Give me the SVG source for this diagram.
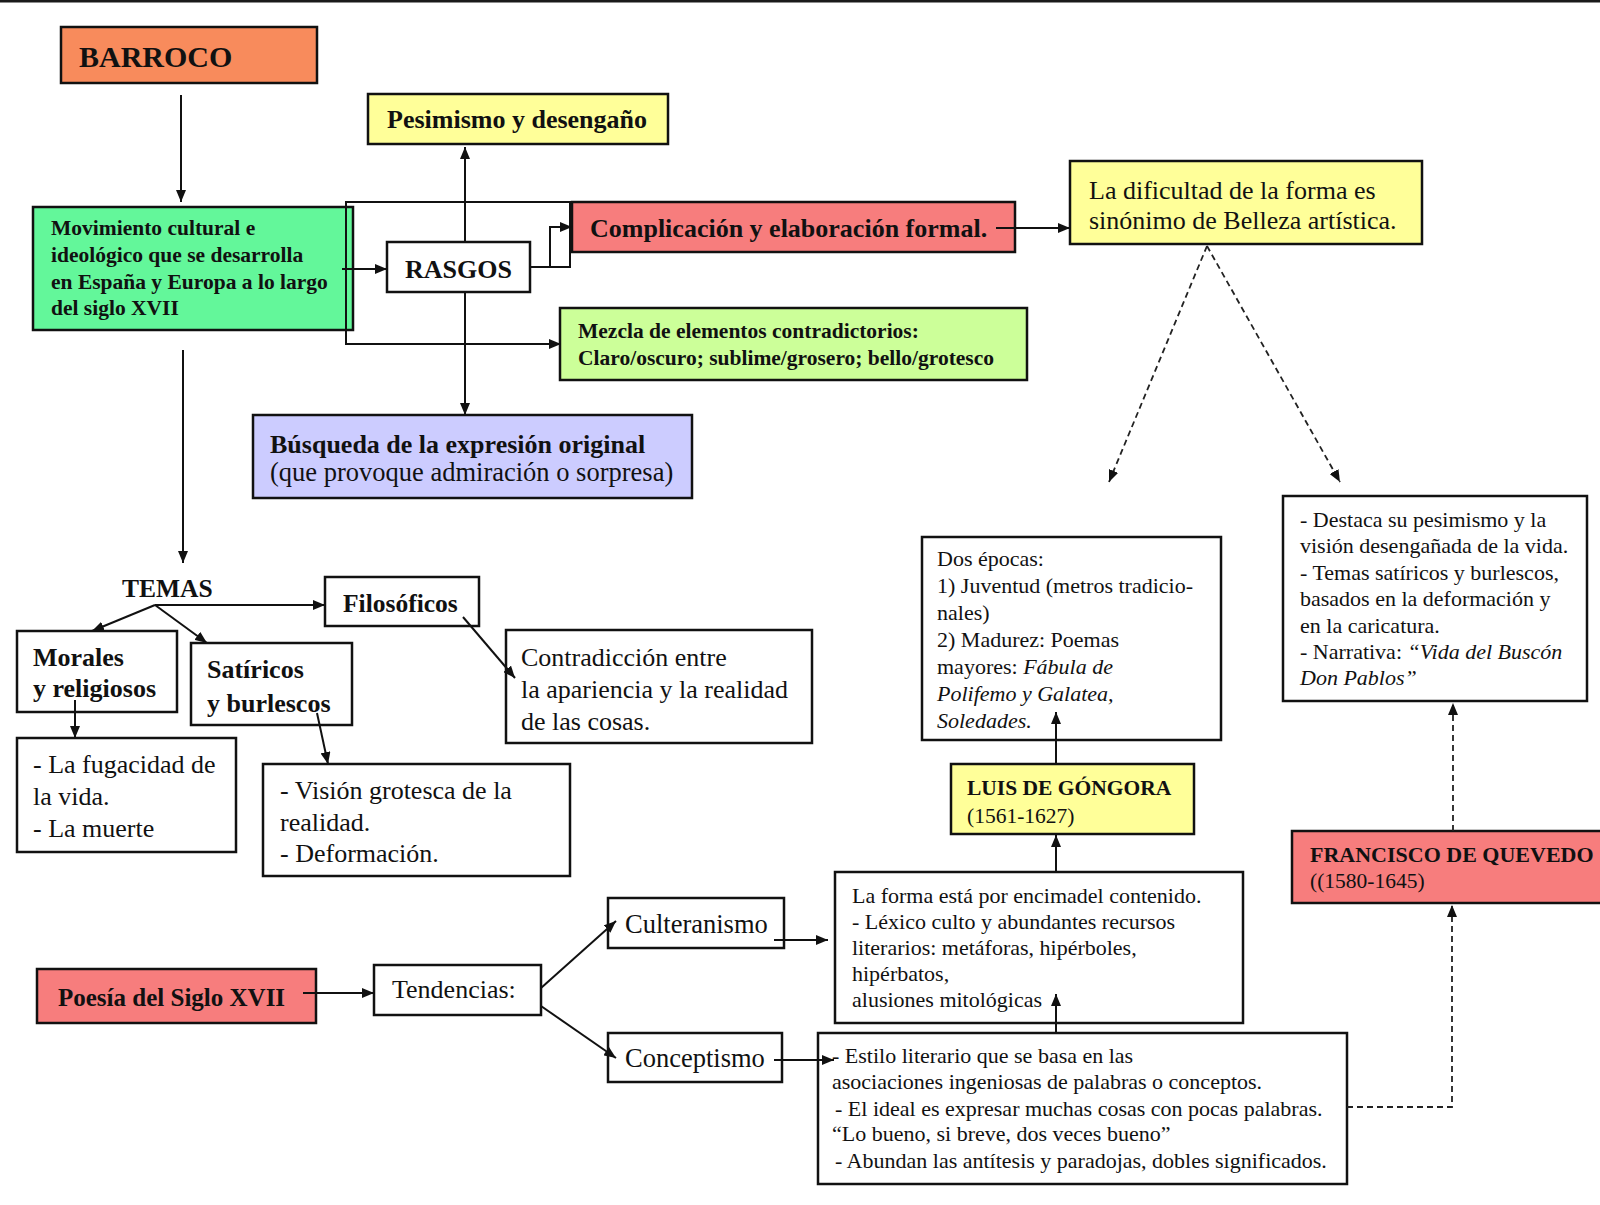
<svg xmlns="http://www.w3.org/2000/svg" width="1600" height="1205" viewBox="0 0 1600 1205">
<defs>
<style>
.bx{stroke:#111;stroke-width:2.5}
.t{font-family:"Liberation Serif","Times New Roman",serif;fill:#111}
.b{font-weight:bold}
.i{font-style:italic}
.c{fill:none;stroke:#111;stroke-width:2}
.d{fill:none;stroke:#222;stroke-width:1.8;stroke-dasharray:6 4}
</style>
<marker id="ah" viewBox="0 0 12 10" refX="12" refY="5" markerWidth="12" markerHeight="10" markerUnits="userSpaceOnUse" orient="auto"><path d="M0,0 L12,5 L0,10 z" fill="#111"/></marker>
</defs>
<rect x="0" y="0" width="1600" height="1205" fill="#fff"/>
<rect x="0" y="0" width="1600" height="2.5" fill="#1a1a1a"/>

<g id="barroco">
<rect class="bx" x="61" y="27" width="256" height="56" fill="#f88b5c" stroke-width="3"/>
<text class="t b" x="79" y="67" font-size="30">BARROCO</text>
</g>

<g id="movimiento">
<rect class="bx" x="33" y="207" width="320" height="123" fill="#63f79a"/>
<text class="t b" font-size="21.5"><tspan x="51" y="235">Movimiento cultural e</tspan><tspan x="51" y="262">ideológico que se desarrolla</tspan><tspan x="51" y="289">en España y Europa a lo largo</tspan><tspan x="51" y="315">del siglo XVII</tspan></text>
</g>

<g id="pesimismo">
<rect class="bx" x="368" y="94" width="300" height="50" fill="#ffff99" stroke-width="3"/>
<text class="t b" x="387" y="128" font-size="26">Pesimismo y desengaño</text>
</g>

<g id="rasgos">
<rect class="bx" x="387" y="242" width="143" height="50" fill="#fff" stroke-width="3"/>
<text class="t b" x="405" y="278" font-size="26">RASGOS</text>
</g>

<g id="complicacion">
<rect class="bx" x="572" y="202" width="443" height="50" fill="#f77d7d" stroke-width="3"/>
<text class="t b" x="590" y="237" font-size="26">Complicación y elaboración formal.</text>
</g>

<g id="mezcla">
<rect class="bx" x="560" y="308" width="467" height="72" fill="#ccff99" stroke-width="3"/>
<text class="t b" font-size="21.5"><tspan x="578" y="338">Mezcla de elementos contradictorios:</tspan><tspan x="578" y="365">Claro/oscuro; sublime/grosero; bello/grotesco</tspan></text>
</g>

<g id="busqueda">
<rect class="bx" x="253" y="415" width="439" height="83" fill="#ccccff" stroke-width="3"/>
<text class="t b" x="270" y="453" font-size="26">Búsqueda de la expresión original</text>
<text class="t" x="270" y="481" font-size="26.5">(que provoque admiración o sorpresa)</text>
</g>

<g id="dificultad">
<rect class="bx" x="1070" y="161" width="352" height="83" fill="#ffff99" stroke-width="3.5"/>
<text class="t" font-size="26"><tspan x="1089" y="199">La dificultad de la forma es</tspan><tspan x="1089" y="229">sinónimo de Belleza artística.</tspan></text>
</g>

<g id="temas">
<text class="t b" x="122" y="597" font-size="25.5">TEMAS</text>
</g>

<g id="filosoficos">
<rect class="bx" x="325" y="577" width="154" height="49" fill="#fff" stroke-width="3"/>
<text class="t b" x="343" y="612" font-size="25.5">Filosóficos</text>
</g>

<g id="morales">
<rect class="bx" x="17" y="631" width="160" height="81" fill="#fff" stroke-width="3"/>
<text class="t b" font-size="26"><tspan x="33" y="666">Morales</tspan><tspan x="33" y="697">y religiosos</tspan></text>
</g>

<g id="satiricos">
<rect class="bx" x="191" y="643" width="161" height="82" fill="#fff" stroke-width="3"/>
<text class="t b" font-size="26"><tspan x="207" y="678">Satíricos</tspan><tspan x="207" y="712">y burlescos</tspan></text>
</g>

<g id="contradiccion">
<rect class="bx" x="506" y="630" width="306" height="113" fill="#fff" stroke-width="3"/>
<text class="t" font-size="26"><tspan x="521" y="666">Contradicción entre</tspan><tspan x="521" y="698">la apariencia y la realidad</tspan><tspan x="521" y="730">de las cosas.</tspan></text>
</g>

<g id="fugacidad">
<rect class="bx" x="17" y="738" width="219" height="114" fill="#fff" stroke-width="3"/>
<text class="t" font-size="26"><tspan x="33" y="773">- La fugacidad de</tspan><tspan x="33" y="805">la vida.</tspan><tspan x="33" y="837">- La muerte</tspan></text>
</g>

<g id="vision">
<rect class="bx" x="263" y="764" width="307" height="112" fill="#fff" stroke-width="3"/>
<text class="t" font-size="26"><tspan x="280" y="799">- Visión grotesca de la</tspan><tspan x="280" y="831">realidad.</tspan><tspan x="280" y="862">- Deformación.</tspan></text>
</g>

<g id="epocas">
<rect class="bx" x="922" y="537" width="299" height="203" fill="#fff" stroke-width="3"/>
<text class="t" font-size="22"><tspan x="937" y="566">Dos épocas:</tspan><tspan x="937" y="593">1) Juventud (metros tradicio-</tspan><tspan x="937" y="620">nales)</tspan><tspan x="937" y="647">2) Madurez: Poemas</tspan><tspan x="937" y="674">mayores: <tspan class="i">Fábula de</tspan></tspan><tspan x="937" y="701" class="i">Polifemo y Galatea,</tspan><tspan x="937" y="728" class="i">Soledades.</tspan></text>
</g>

<g id="quevedo-desc">
<rect class="bx" x="1283" y="496" width="304" height="205" fill="#fff" stroke-width="3"/>
<text class="t" font-size="22"><tspan x="1300" y="527">- Destaca su pesimismo y la</tspan><tspan x="1300" y="553">visión desengañada de la vida.</tspan><tspan x="1300" y="580">- Temas satíricos y burlescos,</tspan><tspan x="1300" y="606">basados en la deformación y</tspan><tspan x="1300" y="633">en la caricatura.</tspan><tspan x="1300" y="659">- Narrativa: <tspan class="i">“Vida del Buscón</tspan></tspan><tspan x="1300" y="685" class="i">Don Pablos”</tspan></text>
</g>

<g id="gongora">
<rect class="bx" x="951" y="764" width="243" height="70" fill="#ffff99" stroke-width="3"/>
<text class="t b" x="967" y="795" font-size="21.5">LUIS DE GÓNGORA</text>
<text class="t" x="967" y="823" font-size="21.5">(1561-1627)</text>
</g>

<g id="quevedo">
<rect class="bx" x="1292" y="831" width="312" height="72" fill="#f77d7d" stroke-width="3"/>
<text class="t b" x="1310" y="862" font-size="22">FRANCISCO DE QUEVEDO</text>
<text class="t" x="1310" y="888" font-size="21.5">((1580-1645)</text>
</g>

<g id="forma">
<rect class="bx" x="835" y="872" width="408" height="151" fill="#fff" stroke-width="3"/>
<text class="t" font-size="22"><tspan x="852" y="903">La forma está por encimadel contenido.</tspan><tspan x="852" y="929">- Léxico culto y abundantes recursos</tspan><tspan x="852" y="955">literarios: metáforas, hipérboles,</tspan><tspan x="852" y="981">hipérbatos,</tspan><tspan x="852" y="1007">alusiones mitológicas</tspan></text>
</g>

<g id="poesia">
<rect class="bx" x="37" y="969" width="279" height="54" fill="#f77d7d" stroke-width="4.5"/>
<text class="t b" x="58" y="1006" font-size="25">Poesía del Siglo XVII</text>
</g>

<g id="tendencias">
<rect class="bx" x="374" y="965" width="167" height="50" fill="#fff" stroke-width="3"/>
<text class="t" x="392" y="998" font-size="26">Tendencias:</text>
</g>

<g id="culteranismo">
<rect class="bx" x="608" y="898" width="176" height="50" fill="#fff" stroke-width="3"/>
<text class="t" x="625" y="933" font-size="26.5">Culteranismo</text>
</g>

<g id="conceptismo">
<rect class="bx" x="608" y="1033" width="174" height="49" fill="#fff" stroke-width="3"/>
<text class="t" x="625" y="1067" font-size="26.5">Conceptismo</text>
</g>

<g id="estilo">
<rect class="bx" x="818" y="1033" width="529" height="151" fill="#fff" stroke-width="3"/>
<text class="t" font-size="22"><tspan x="832" y="1063">- Estilo literario que se basa en las</tspan><tspan x="832" y="1089">asociaciones ingeniosas de palabras o conceptos.</tspan><tspan x="835" y="1116">- El ideal es expresar muchas cosas con pocas palabras.</tspan><tspan x="832" y="1141">“Lo bueno, si breve, dos veces bueno”</tspan><tspan x="835" y="1168">- Abundan las antítesis y paradojas, dobles significados.</tspan></text>
</g>

<g id="connectors">
<line class="c" x1="181" y1="95" x2="181" y2="202" marker-end="url(#ah)"/>
<line class="c" x1="183" y1="350" x2="183" y2="563" marker-end="url(#ah)"/>
<line class="c" x1="342" y1="269" x2="387" y2="269" marker-end="url(#ah)"/>
<line class="c" x1="465" y1="242" x2="465" y2="147" marker-end="url(#ah)"/>
<line class="c" x1="465" y1="292" x2="465" y2="415" marker-end="url(#ah)"/>
<path class="c" d="M530,267 H570 V202 H346 V344 H561" marker-end="url(#ah)"/>
<path class="c" d="M550,267 V227 H572" marker-end="url(#ah)"/>
<line class="c" x1="996" y1="228" x2="1070" y2="228" marker-end="url(#ah)"/>
<line class="d" x1="1207" y1="246" x2="1109" y2="482" marker-end="url(#ah)"/>
<line class="d" x1="1207" y1="246" x2="1340" y2="482" marker-end="url(#ah)"/>
<line class="c" x1="155" y1="605" x2="325" y2="605" marker-end="url(#ah)"/>
<line class="c" x1="155" y1="605" x2="92" y2="631" marker-end="url(#ah)"/>
<line class="c" x1="155" y1="605" x2="207" y2="643" marker-end="url(#ah)"/>
<line class="c" x1="75" y1="700" x2="75" y2="738" marker-end="url(#ah)"/>
<line class="c" x1="317" y1="713" x2="328" y2="764" marker-end="url(#ah)"/>
<line class="c" x1="463" y1="617" x2="515" y2="678" marker-end="url(#ah)"/>
<line class="c" x1="303" y1="993" x2="374" y2="993" marker-end="url(#ah)"/>
<line class="c" x1="541" y1="988" x2="616" y2="921" marker-end="url(#ah)"/>
<line class="c" x1="541" y1="1006" x2="616" y2="1058" marker-end="url(#ah)"/>
<line class="c" x1="774" y1="940" x2="828" y2="940" marker-end="url(#ah)"/>
<line class="c" x1="774" y1="1060" x2="834" y2="1060" marker-end="url(#ah)"/>
<line class="c" x1="1056" y1="1033" x2="1056" y2="994" marker-end="url(#ah)"/>
<line class="c" x1="1056" y1="872" x2="1056" y2="835" marker-end="url(#ah)"/>
<line class="c" x1="1056" y1="764" x2="1056" y2="712" marker-end="url(#ah)"/>
<path class="d" d="M1347,1107 H1452 V905" marker-end="url(#ah)"/>
<line class="d" x1="1453" y1="831" x2="1453" y2="703" marker-end="url(#ah)"/>
</g>
</svg>
